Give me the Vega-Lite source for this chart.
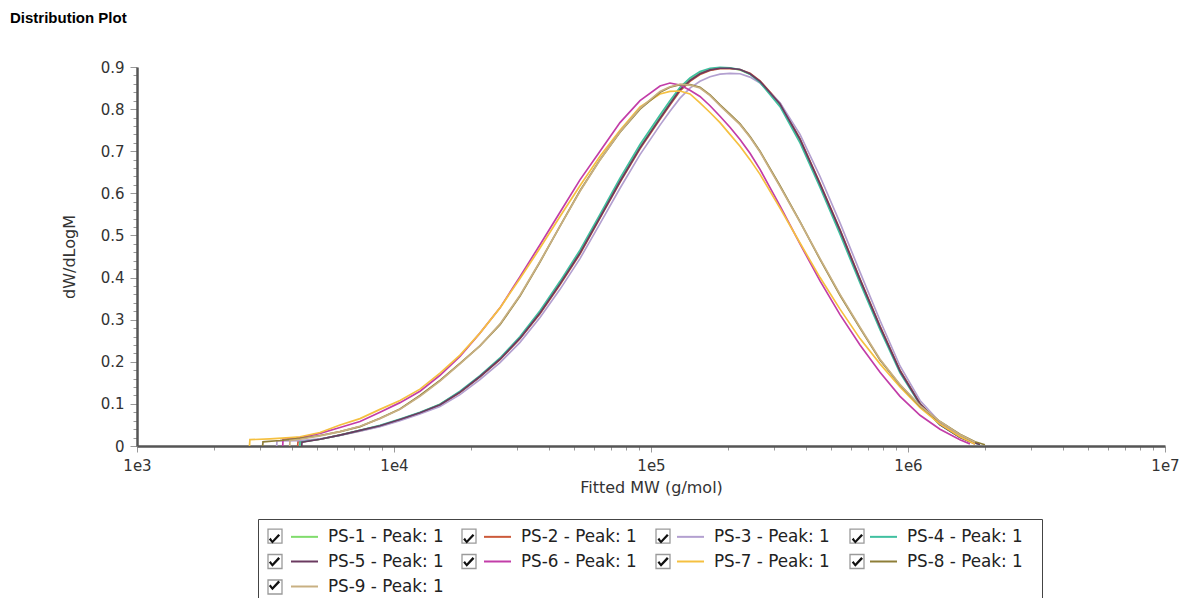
{
"$schema":"https://vega.github.io/schema/vega-lite/v6.json",
"autosize":"none",
"width":1028,"height":379,
"padding":{"left":137,"top":67,"right":24,"bottom":152},
"background":"white",
"config":{"view":{"stroke":null},"font":"DejaVu Sans"},
"title":{"text":"Distribution Plot","anchor":"start","frame":"group","font":"Liberation Sans","fontSize":15,"fontWeight":"bold","color":"#000","dx":-127,"offset":34},
"layer":[
{"data":{"values":[
{"s":"PS-1","m":4300,"w":0},{"s":"PS-1","m":4308,"w":0.009},{"s":"PS-1","m":5153,"w":0.016},{"s":"PS-1","m":6165,"w":0.026},{"s":"PS-1","m":7375,"w":0.037},{"s":"PS-1","m":8820,"w":0.048},{"s":"PS-1","m":10550,"w":0.063},{"s":"PS-1","m":12620,"w":0.079},{"s":"PS-1","m":15100,"w":0.099},{"s":"PS-1","m":18060,"w":0.128},{"s":"PS-1","m":21600,"w":0.165},{"s":"PS-1","m":25850,"w":0.207},{"s":"PS-1","m":30920,"w":0.257},{"s":"PS-1","m":36990,"w":0.317},{"s":"PS-1","m":44250,"w":0.386},{"s":"PS-1","m":52920,"w":0.46},{"s":"PS-1","m":63320,"w":0.545},{"s":"PS-1","m":75750,"w":0.63},{"s":"PS-1","m":90620,"w":0.71},{"s":"PS-1","m":108400,"w":0.78},{"s":"PS-1","m":118500,"w":0.814},{"s":"PS-1","m":129700,"w":0.848},{"s":"PS-1","m":141800,"w":0.87},{"s":"PS-1","m":155100,"w":0.886},{"s":"PS-1","m":169700,"w":0.894},{"s":"PS-1","m":185600,"w":0.898},{"s":"PS-1","m":202900,"w":0.897},{"s":"PS-1","m":222000,"w":0.893},{"s":"PS-1","m":242800,"w":0.883},{"s":"PS-1","m":265600,"w":0.864},{"s":"PS-1","m":317700,"w":0.81},{"s":"PS-1","m":380000,"w":0.726},{"s":"PS-1","m":454700,"w":0.62},{"s":"PS-1","m":543800,"w":0.51},{"s":"PS-1","m":650500,"w":0.394},{"s":"PS-1","m":778300,"w":0.282},{"s":"PS-1","m":930900,"w":0.178},{"s":"PS-1","m":1114000,"w":0.101},{"s":"PS-1","m":1332000,"w":0.052},{"s":"PS-1","m":1593000,"w":0.022},{"s":"PS-1","m":1742000,"w":0.012},{"s":"PS-1","m":1906000,"w":0.004},
{"s":"PS-2","m":4220,"w":0},{"s":"PS-2","m":4230,"w":0.01},{"s":"PS-2","m":5153,"w":0.016},{"s":"PS-2","m":6165,"w":0.026},{"s":"PS-2","m":7375,"w":0.036},{"s":"PS-2","m":8820,"w":0.047},{"s":"PS-2","m":10550,"w":0.062},{"s":"PS-2","m":12620,"w":0.078},{"s":"PS-2","m":15100,"w":0.097},{"s":"PS-2","m":18060,"w":0.127},{"s":"PS-2","m":21600,"w":0.164},{"s":"PS-2","m":25850,"w":0.205},{"s":"PS-2","m":30920,"w":0.255},{"s":"PS-2","m":36990,"w":0.314},{"s":"PS-2","m":44250,"w":0.383},{"s":"PS-2","m":52920,"w":0.456},{"s":"PS-2","m":63320,"w":0.541},{"s":"PS-2","m":75750,"w":0.626},{"s":"PS-2","m":90620,"w":0.706},{"s":"PS-2","m":108400,"w":0.776},{"s":"PS-2","m":118500,"w":0.81},{"s":"PS-2","m":129700,"w":0.843},{"s":"PS-2","m":141800,"w":0.866},{"s":"PS-2","m":155100,"w":0.882},{"s":"PS-2","m":169700,"w":0.892},{"s":"PS-2","m":185600,"w":0.896},{"s":"PS-2","m":202900,"w":0.896},{"s":"PS-2","m":222000,"w":0.894},{"s":"PS-2","m":242800,"w":0.885},{"s":"PS-2","m":265600,"w":0.867},{"s":"PS-2","m":317700,"w":0.814},{"s":"PS-2","m":380000,"w":0.73},{"s":"PS-2","m":454700,"w":0.624},{"s":"PS-2","m":543800,"w":0.514},{"s":"PS-2","m":650500,"w":0.397},{"s":"PS-2","m":778300,"w":0.285},{"s":"PS-2","m":930900,"w":0.18},{"s":"PS-2","m":1114000,"w":0.101},{"s":"PS-2","m":1332000,"w":0.051},{"s":"PS-2","m":1593000,"w":0.021},{"s":"PS-2","m":1742000,"w":0.01},{"s":"PS-2","m":1823000,"w":0.005},
{"s":"PS-3","m":3495,"w":0},{"s":"PS-3","m":3505,"w":0.012},{"s":"PS-3","m":4308,"w":0.013},{"s":"PS-3","m":5153,"w":0.017},{"s":"PS-3","m":6165,"w":0.025},{"s":"PS-3","m":7375,"w":0.035},{"s":"PS-3","m":8820,"w":0.046},{"s":"PS-3","m":10550,"w":0.06},{"s":"PS-3","m":12620,"w":0.076},{"s":"PS-3","m":15100,"w":0.094},{"s":"PS-3","m":18060,"w":0.122},{"s":"PS-3","m":21600,"w":0.158},{"s":"PS-3","m":25850,"w":0.198},{"s":"PS-3","m":30920,"w":0.246},{"s":"PS-3","m":36990,"w":0.305},{"s":"PS-3","m":44250,"w":0.372},{"s":"PS-3","m":52920,"w":0.445},{"s":"PS-3","m":63320,"w":0.528},{"s":"PS-3","m":75750,"w":0.612},{"s":"PS-3","m":90620,"w":0.692},{"s":"PS-3","m":108400,"w":0.762},{"s":"PS-3","m":118500,"w":0.795},{"s":"PS-3","m":129700,"w":0.826},{"s":"PS-3","m":141800,"w":0.85},{"s":"PS-3","m":155100,"w":0.866},{"s":"PS-3","m":169700,"w":0.877},{"s":"PS-3","m":185600,"w":0.883},{"s":"PS-3","m":202900,"w":0.885},{"s":"PS-3","m":222000,"w":0.884},{"s":"PS-3","m":242800,"w":0.876},{"s":"PS-3","m":265600,"w":0.862},{"s":"PS-3","m":317700,"w":0.815},{"s":"PS-3","m":380000,"w":0.74},{"s":"PS-3","m":454700,"w":0.64},{"s":"PS-3","m":543800,"w":0.53},{"s":"PS-3","m":650500,"w":0.413},{"s":"PS-3","m":778300,"w":0.298},{"s":"PS-3","m":930900,"w":0.19},{"s":"PS-3","m":1114000,"w":0.108},{"s":"PS-3","m":1332000,"w":0.056},{"s":"PS-3","m":1593000,"w":0.024},{"s":"PS-3","m":1742000,"w":0.012},{"s":"PS-3","m":1823000,"w":0.005},
{"s":"PS-4","m":4300,"w":0},{"s":"PS-4","m":4308,"w":0.009},{"s":"PS-4","m":5153,"w":0.016},{"s":"PS-4","m":6165,"w":0.026},{"s":"PS-4","m":7375,"w":0.037},{"s":"PS-4","m":8820,"w":0.049},{"s":"PS-4","m":10550,"w":0.064},{"s":"PS-4","m":12620,"w":0.08},{"s":"PS-4","m":15100,"w":0.099},{"s":"PS-4","m":18060,"w":0.13},{"s":"PS-4","m":21600,"w":0.167},{"s":"PS-4","m":25850,"w":0.209},{"s":"PS-4","m":30920,"w":0.26},{"s":"PS-4","m":36990,"w":0.321},{"s":"PS-4","m":44250,"w":0.391},{"s":"PS-4","m":52920,"w":0.465},{"s":"PS-4","m":63320,"w":0.55},{"s":"PS-4","m":75750,"w":0.636},{"s":"PS-4","m":90620,"w":0.716},{"s":"PS-4","m":108400,"w":0.786},{"s":"PS-4","m":118500,"w":0.82},{"s":"PS-4","m":129700,"w":0.852},{"s":"PS-4","m":141800,"w":0.874},{"s":"PS-4","m":155100,"w":0.889},{"s":"PS-4","m":169700,"w":0.897},{"s":"PS-4","m":185600,"w":0.899},{"s":"PS-4","m":202900,"w":0.898},{"s":"PS-4","m":222000,"w":0.894},{"s":"PS-4","m":242800,"w":0.883},{"s":"PS-4","m":265600,"w":0.863},{"s":"PS-4","m":317700,"w":0.806},{"s":"PS-4","m":380000,"w":0.72},{"s":"PS-4","m":454700,"w":0.614},{"s":"PS-4","m":543800,"w":0.503},{"s":"PS-4","m":650500,"w":0.387},{"s":"PS-4","m":778300,"w":0.276},{"s":"PS-4","m":930900,"w":0.174},{"s":"PS-4","m":1114000,"w":0.098},{"s":"PS-4","m":1332000,"w":0.05},{"s":"PS-4","m":1593000,"w":0.021},{"s":"PS-4","m":1742000,"w":0.011},{"s":"PS-4","m":1906000,"w":0.004},
{"s":"PS-5","m":4375,"w":0},{"s":"PS-5","m":4385,"w":0.009},{"s":"PS-5","m":5153,"w":0.016},{"s":"PS-5","m":6165,"w":0.026},{"s":"PS-5","m":7375,"w":0.037},{"s":"PS-5","m":8820,"w":0.048},{"s":"PS-5","m":10550,"w":0.063},{"s":"PS-5","m":12620,"w":0.079},{"s":"PS-5","m":15100,"w":0.098},{"s":"PS-5","m":18060,"w":0.128},{"s":"PS-5","m":21600,"w":0.165},{"s":"PS-5","m":25850,"w":0.206},{"s":"PS-5","m":30920,"w":0.256},{"s":"PS-5","m":36990,"w":0.316},{"s":"PS-5","m":44250,"w":0.385},{"s":"PS-5","m":52920,"w":0.458},{"s":"PS-5","m":63320,"w":0.543},{"s":"PS-5","m":75750,"w":0.628},{"s":"PS-5","m":90620,"w":0.708},{"s":"PS-5","m":108400,"w":0.778},{"s":"PS-5","m":118500,"w":0.812},{"s":"PS-5","m":129700,"w":0.846},{"s":"PS-5","m":141800,"w":0.868},{"s":"PS-5","m":155100,"w":0.884},{"s":"PS-5","m":169700,"w":0.893},{"s":"PS-5","m":185600,"w":0.897},{"s":"PS-5","m":202900,"w":0.897},{"s":"PS-5","m":222000,"w":0.894},{"s":"PS-5","m":242800,"w":0.884},{"s":"PS-5","m":265600,"w":0.866},{"s":"PS-5","m":317700,"w":0.812},{"s":"PS-5","m":380000,"w":0.728},{"s":"PS-5","m":454700,"w":0.622},{"s":"PS-5","m":543800,"w":0.512},{"s":"PS-5","m":650500,"w":0.395},{"s":"PS-5","m":778300,"w":0.283},{"s":"PS-5","m":930900,"w":0.178},{"s":"PS-5","m":1114000,"w":0.1},{"s":"PS-5","m":1332000,"w":0.051},{"s":"PS-5","m":1593000,"w":0.021},{"s":"PS-5","m":1742000,"w":0.011},{"s":"PS-5","m":1906000,"w":0.004},
{"s":"PS-6","m":3690,"w":0},{"s":"PS-6","m":3700,"w":0.016},{"s":"PS-6","m":4308,"w":0.02},{"s":"PS-6","m":5153,"w":0.03},{"s":"PS-6","m":6165,"w":0.044},{"s":"PS-6","m":7375,"w":0.058},{"s":"PS-6","m":8820,"w":0.08},{"s":"PS-6","m":10550,"w":0.103},{"s":"PS-6","m":12620,"w":0.13},{"s":"PS-6","m":15100,"w":0.168},{"s":"PS-6","m":18060,"w":0.213},{"s":"PS-6","m":21600,"w":0.268},{"s":"PS-6","m":25850,"w":0.328},{"s":"PS-6","m":30920,"w":0.402},{"s":"PS-6","m":36990,"w":0.478},{"s":"PS-6","m":44250,"w":0.555},{"s":"PS-6","m":52920,"w":0.632},{"s":"PS-6","m":63320,"w":0.7},{"s":"PS-6","m":75750,"w":0.768},{"s":"PS-6","m":90620,"w":0.82},{"s":"PS-6","m":108400,"w":0.855},{"s":"PS-6","m":118500,"w":0.862},{"s":"PS-6","m":129700,"w":0.857},{"s":"PS-6","m":141800,"w":0.845},{"s":"PS-6","m":155100,"w":0.83},{"s":"PS-6","m":169700,"w":0.808},{"s":"PS-6","m":185600,"w":0.783},{"s":"PS-6","m":202900,"w":0.757},{"s":"PS-6","m":222000,"w":0.728},{"s":"PS-6","m":242800,"w":0.695},{"s":"PS-6","m":265600,"w":0.657},{"s":"PS-6","m":317700,"w":0.57},{"s":"PS-6","m":380000,"w":0.48},{"s":"PS-6","m":454700,"w":0.392},{"s":"PS-6","m":543800,"w":0.312},{"s":"PS-6","m":650500,"w":0.24},{"s":"PS-6","m":778300,"w":0.175},{"s":"PS-6","m":930900,"w":0.118},{"s":"PS-6","m":1114000,"w":0.073},{"s":"PS-6","m":1332000,"w":0.04},{"s":"PS-6","m":1593000,"w":0.015},{"s":"PS-6","m":1742000,"w":0.005},
{"s":"PS-7","m":2740,"w":0},{"s":"PS-7","m":2750,"w":0.015},{"s":"PS-7","m":3290,"w":0.017},{"s":"PS-7","m":3938,"w":0.02},{"s":"PS-7","m":4308,"w":0.022},{"s":"PS-7","m":5153,"w":0.032},{"s":"PS-7","m":6165,"w":0.05},{"s":"PS-7","m":7375,"w":0.065},{"s":"PS-7","m":8820,"w":0.087},{"s":"PS-7","m":10550,"w":0.108},{"s":"PS-7","m":12620,"w":0.135},{"s":"PS-7","m":15100,"w":0.173},{"s":"PS-7","m":18060,"w":0.216},{"s":"PS-7","m":21600,"w":0.268},{"s":"PS-7","m":25850,"w":0.328},{"s":"PS-7","m":30920,"w":0.398},{"s":"PS-7","m":36990,"w":0.47},{"s":"PS-7","m":44250,"w":0.545},{"s":"PS-7","m":52920,"w":0.618},{"s":"PS-7","m":63320,"w":0.688},{"s":"PS-7","m":75750,"w":0.75},{"s":"PS-7","m":90620,"w":0.805},{"s":"PS-7","m":108400,"w":0.836},{"s":"PS-7","m":118500,"w":0.842},{"s":"PS-7","m":129700,"w":0.843},{"s":"PS-7","m":141800,"w":0.836},{"s":"PS-7","m":155100,"w":0.815},{"s":"PS-7","m":169700,"w":0.792},{"s":"PS-7","m":185600,"w":0.768},{"s":"PS-7","m":202900,"w":0.74},{"s":"PS-7","m":222000,"w":0.712},{"s":"PS-7","m":242800,"w":0.68},{"s":"PS-7","m":265600,"w":0.645},{"s":"PS-7","m":317700,"w":0.565},{"s":"PS-7","m":380000,"w":0.482},{"s":"PS-7","m":454700,"w":0.4},{"s":"PS-7","m":543800,"w":0.325},{"s":"PS-7","m":650500,"w":0.255},{"s":"PS-7","m":778300,"w":0.195},{"s":"PS-7","m":930900,"w":0.14},{"s":"PS-7","m":1114000,"w":0.091},{"s":"PS-7","m":1332000,"w":0.052},{"s":"PS-7","m":1593000,"w":0.022},{"s":"PS-7","m":1823000,"w":0.005},
{"s":"PS-8","m":3082,"w":0},{"s":"PS-8","m":3092,"w":0.01},{"s":"PS-8","m":3600,"w":0.013},{"s":"PS-8","m":4308,"w":0.018},{"s":"PS-8","m":5153,"w":0.025},{"s":"PS-8","m":6165,"w":0.034},{"s":"PS-8","m":7375,"w":0.046},{"s":"PS-8","m":8820,"w":0.066},{"s":"PS-8","m":10550,"w":0.088},{"s":"PS-8","m":12620,"w":0.12},{"s":"PS-8","m":15100,"w":0.156},{"s":"PS-8","m":18060,"w":0.196},{"s":"PS-8","m":21600,"w":0.238},{"s":"PS-8","m":25850,"w":0.288},{"s":"PS-8","m":30920,"w":0.356},{"s":"PS-8","m":36990,"w":0.437},{"s":"PS-8","m":44250,"w":0.522},{"s":"PS-8","m":52920,"w":0.606},{"s":"PS-8","m":63320,"w":0.68},{"s":"PS-8","m":75750,"w":0.745},{"s":"PS-8","m":90620,"w":0.8},{"s":"PS-8","m":108400,"w":0.84},{"s":"PS-8","m":118500,"w":0.852},{"s":"PS-8","m":129700,"w":0.858},{"s":"PS-8","m":141800,"w":0.858},{"s":"PS-8","m":155100,"w":0.852},{"s":"PS-8","m":169700,"w":0.834},{"s":"PS-8","m":185600,"w":0.81},{"s":"PS-8","m":202900,"w":0.788},{"s":"PS-8","m":222000,"w":0.765},{"s":"PS-8","m":242800,"w":0.735},{"s":"PS-8","m":265600,"w":0.7},{"s":"PS-8","m":317700,"w":0.618},{"s":"PS-8","m":380000,"w":0.533},{"s":"PS-8","m":454700,"w":0.443},{"s":"PS-8","m":543800,"w":0.358},{"s":"PS-8","m":650500,"w":0.28},{"s":"PS-8","m":778300,"w":0.204},{"s":"PS-8","m":930900,"w":0.145},{"s":"PS-8","m":1114000,"w":0.095},{"s":"PS-8","m":1332000,"w":0.058},{"s":"PS-8","m":1593000,"w":0.028},{"s":"PS-8","m":1823000,"w":0.01},{"s":"PS-8","m":1993000,"w":0.003},
{"s":"PS-9","m":3928,"w":0},{"s":"PS-9","m":3938,"w":0.013},{"s":"PS-9","m":4308,"w":0.016},{"s":"PS-9","m":5153,"w":0.024},{"s":"PS-9","m":6165,"w":0.034},{"s":"PS-9","m":7375,"w":0.047},{"s":"PS-9","m":8820,"w":0.065},{"s":"PS-9","m":10550,"w":0.087},{"s":"PS-9","m":12620,"w":0.118},{"s":"PS-9","m":15100,"w":0.154},{"s":"PS-9","m":18060,"w":0.195},{"s":"PS-9","m":21600,"w":0.238},{"s":"PS-9","m":25850,"w":0.29},{"s":"PS-9","m":30920,"w":0.358},{"s":"PS-9","m":36990,"w":0.438},{"s":"PS-9","m":44250,"w":0.522},{"s":"PS-9","m":52920,"w":0.605},{"s":"PS-9","m":63320,"w":0.679},{"s":"PS-9","m":75750,"w":0.746},{"s":"PS-9","m":90620,"w":0.802},{"s":"PS-9","m":108400,"w":0.842},{"s":"PS-9","m":118500,"w":0.853},{"s":"PS-9","m":129700,"w":0.859},{"s":"PS-9","m":141800,"w":0.857},{"s":"PS-9","m":155100,"w":0.85},{"s":"PS-9","m":169700,"w":0.832},{"s":"PS-9","m":185600,"w":0.808},{"s":"PS-9","m":202900,"w":0.786},{"s":"PS-9","m":222000,"w":0.763},{"s":"PS-9","m":242800,"w":0.733},{"s":"PS-9","m":265600,"w":0.698},{"s":"PS-9","m":317700,"w":0.616},{"s":"PS-9","m":380000,"w":0.532},{"s":"PS-9","m":454700,"w":0.445},{"s":"PS-9","m":543800,"w":0.36},{"s":"PS-9","m":650500,"w":0.282},{"s":"PS-9","m":778300,"w":0.206},{"s":"PS-9","m":930900,"w":0.146},{"s":"PS-9","m":1114000,"w":0.096},{"s":"PS-9","m":1332000,"w":0.058},{"s":"PS-9","m":1593000,"w":0.027},{"s":"PS-9","m":1823000,"w":0.009}
]},
"mark":{"type":"line","strokeWidth":1.7,"interpolate":"linear"},
"encoding":{
"x":{"field":"m","type":"quantitative","scale":{"type":"log","domain":[1000,10000000]},
"axis":{"title":"Fitted MW (g/mol)","titleFont":"DejaVu Sans","titleFontSize":16,"titleFontWeight":"normal","titleColor":"#333","titlePadding":6,
"values":[1000,2000,3000,4000,5000,6000,7000,8000,9000,10000,20000,30000,40000,50000,60000,70000,80000,90000,100000,200000,300000,400000,500000,600000,700000,800000,900000,1000000,2000000,3000000,4000000,5000000,6000000,7000000,8000000,9000000,10000000],
"labelExpr":"datum.value==1000?'1e3':datum.value==10000?'1e4':datum.value==100000?'1e5':datum.value==1000000?'1e6':datum.value==10000000?'1e7':''",
"tickSize":{"condition":{"test":"datum.value==1000||datum.value==10000||datum.value==100000||datum.value==1000000||datum.value==10000000","value":6},"value":4},
"labelFont":"DejaVu Sans","labelFontSize":15,"labelColor":"#333","labelPadding":6,"labelOverlap":false,"labelFlush":false,"labelBound":false,
"tickColor":"#999","tickWidth":1,"domainColor":"#555","domainWidth":2.5,"grid":false}},
"y":{"field":"w","type":"quantitative","scale":{"domain":[0,0.9],"nice":false,"zero":true},
"axis":{"title":"dW/dLogM","titleFont":"DejaVu Sans","titleFontSize":16,"titleFontWeight":"normal","titleColor":"#333","titlePadding":23,
"values":[0,0.02,0.04,0.06,0.08,0.1,0.12,0.14,0.16,0.18,0.2,0.22,0.24,0.26,0.28,0.3,0.32,0.34,0.36,0.38,0.4,0.42,0.44,0.46,0.48,0.5,0.52,0.54,0.56,0.58,0.6,0.62,0.64,0.66,0.68,0.7,0.72,0.74,0.76,0.78,0.8,0.82,0.84,0.86,0.88,0.9],
"labelExpr":"round(datum.value*100)%10==0 ? (datum.value==0 ? '0' : format(datum.value,'.1f')) : ''",
"tickSize":{"condition":{"test":"round(datum.value*100)%10==0","value":7},"value":4},
"labelFont":"DejaVu Sans","labelFontSize":15,"labelColor":"#333","labelPadding":6,"labelOverlap":false,"labelFlush":false,"labelBound":false,
"tickColor":"#999","tickWidth":1,"domainColor":"#555","domainWidth":2.5,"grid":false}},
"color":{"field":"s","type":"nominal",
"scale":{"domain":["PS-1","PS-2","PS-3","PS-4","PS-5","PS-6","PS-7","PS-8","PS-9"],"range":["#80dc6c","#cc5a3a","#b3a0d0","#40c0a0","#6b3a60","#c23da8","#f5c040","#8e7e38","#c8b082"]},
"legend":{"orient":"none","direction":"horizontal","legendX":153,"legendY":455,"columns":4,"title":null,"symbolType":"stroke","symbolSize":729,"symbolStrokeWidth":2,"labelExpr":"datum.label + ' - Peak: 1'","labelFont":"DejaVu Sans","labelFontSize":16.8,"labelColor":"#222","labelOffset":9,"columnPadding":36,"rowPadding":1,"padding":0}}
}},
{"data":{"values":[{"b":"PS-1"},{"b":"PS-2"},{"b":"PS-3"},{"b":"PS-4"},{"b":"PS-5"},{"b":"PS-6"},{"b":"PS-7"},{"b":"PS-8"},{"b":"PS-9"}]},
"mark":{"type":"point","shape":"square","opacity":0},
"encoding":{"stroke":{"field":"b","type":"nominal","scale":{"range":["#9a9a9a"]},
"legend":{"orient":"none","direction":"horizontal","legendX":121,"legendY":452,"columns":4,"title":null,"symbolType":"square","symbolSize":196,"symbolStrokeWidth":1.3,"labelExpr":"' '","labelFont":"DejaVu Sans","labelFontSize":16,"labelOffset":168,"columnPadding":8,"rowPadding":5.5,"padding":9,"strokeColor":"#444",
"encode":{"symbols":{"update":{"opacity":{"value":1},"fill":{"value":"white"}}}}}}}},
{"data":{"values":[{"c":"PS-1"},{"c":"PS-2"},{"c":"PS-3"},{"c":"PS-4"},{"c":"PS-5"},{"c":"PS-6"},{"c":"PS-7"},{"c":"PS-8"},{"c":"PS-9"}]},
"mark":{"type":"point","shape":"M-0.8,0 L-0.3,0.6 L0.8,-0.55 L0.55,-0.78 L-0.3,0.15 L-0.55,-0.22 Z","filled":true,"opacity":0},
"encoding":{"fill":{"field":"c","type":"nominal","scale":{"range":["#111111"]},
"legend":{"orient":"none","direction":"horizontal","legendX":130.5,"legendY":465,"columns":4,"title":null,"symbolType":"M-0.8,0 L-0.3,0.6 L0.8,-0.55 L0.55,-0.78 L-0.3,0.15 L-0.55,-0.22 Z","symbolSize":196,"symbolStrokeWidth":0,"labelExpr":"''","labelFontSize":1,"labelOffset":0,"columnPadding":180.3,"rowPadding":11.5,"padding":0,
"encode":{"symbols":{"update":{"opacity":{"value":1},"fill":{"value":"#111111"}}}}}}}}
]
}
